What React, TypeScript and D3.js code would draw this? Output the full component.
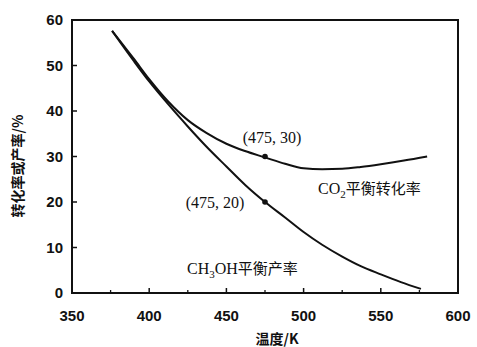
import React, { useRef, useEffect } from 'react';
import * as d3 from 'd3';

// temperatures (K) and values (%)
const co2Temp = [376, 390, 400, 412, 425, 437, 450, 462, 475, 488, 500, 512, 525, 537, 550, 565, 580];
const co2Rate = [57.6, 51.5, 47, 42.2, 38, 35.2, 32.8, 31.2, 29.8, 28.4, 27.4, 27.2, 27.3, 27.7, 28.3, 29.1, 30];
const ch3ohTemp = [376, 390, 400, 412, 425, 437, 450, 462, 475, 488, 500, 512, 525, 537, 550, 563, 576];
const ch3ohRate = [57.6, 51, 46.5, 41.6, 36.6, 32.2, 27.8, 23.8, 20, 16.6, 13.4, 10.6, 8, 5.9, 4.1, 2.4, 0.9];
const xTicks = [350, 400, 450, 500, 550, 600];
const yTicks = [0, 10, 20, 30, 40, 50, 60];
const markers = [
  { t: 475, v: 30, label: '(475, 30)' },
  { t: 475, v: 20, label: '(475, 20)' },
];

const W = 477, H = 347;
const margin = { left: 72, right: 19, top: 20, bottom: 54 };

const App = () => {
  const ref = useRef<SVGSVGElement>(null);

  useEffect(() => {
    const svg = d3.select(ref.current);
    svg.selectAll('*').remove();
    const w = W - margin.left - margin.right;
    const h = H - margin.top - margin.bottom;
    const x = d3.scaleLinear().domain([350, 600]).range([margin.left, margin.left + w]);
    const y = d3.scaleLinear().domain([0, 60]).range([margin.top + h, margin.top]);

    svg.append('rect').attr('width', W).attr('height', H).attr('fill', '#fff');

    // frame
    svg.append('rect').attr('x', margin.left).attr('y', margin.top).attr('width', w).attr('height', h)
      .attr('fill', 'none').attr('stroke', '#111').attr('stroke-width', 2);

    const ink = '#111';
    const font = '"Liberation Sans", Arial, sans-serif';

    // x ticks, inward
    const xMinor = d3.range(375, 600, 50);
    svg.append('g').selectAll('line.xmaj').data(xTicks.slice(1, -1)).enter().append('line')
      .attr('x1', d => x(d)).attr('x2', d => x(d)).attr('y1', y(0)).attr('y2', y(0) - 5)
      .attr('stroke', ink).attr('stroke-width', 1.5);
    svg.append('g').selectAll('line.xmin').data(xMinor).enter().append('line')
      .attr('x1', d => x(d)).attr('x2', d => x(d)).attr('y1', y(0)).attr('y2', y(0) - 3)
      .attr('stroke', ink).attr('stroke-width', 1.3);
    svg.append('g').selectAll('text').data(xTicks).enter().append('text')
      .attr('x', d => x(d)).attr('y', 321).attr('text-anchor', 'middle')
      .attr('font-family', font).attr('font-weight', 'bold').attr('font-size', 15).attr('fill', ink)
      .text(d => d);

    // y ticks, inward
    svg.append('g').selectAll('line').data(yTicks.slice(1, -1)).enter().append('line')
      .attr('x1', x(350)).attr('x2', x(350) + 5).attr('y1', d => y(d)).attr('y2', d => y(d))
      .attr('stroke', ink).attr('stroke-width', 1.5);
    svg.append('g').selectAll('text').data(yTicks).enter().append('text')
      .attr('x', 63).attr('y', d => y(d) + 5).attr('text-anchor', 'end')
      .attr('font-family', font).attr('font-weight', 'bold').attr('font-size', 15).attr('fill', ink)
      .text(d => d);

    // axis titles
    svg.append('text').attr('transform', 'translate(23,166) rotate(-90)').attr('text-anchor', 'middle')
      .attr('font-family', '"Noto Sans CJK SC", sans-serif').attr('font-weight', 'bold').attr('font-size', 14)
      .attr('fill', ink).text('转化率或产率/%');
    svg.append('text').attr('x', 277).attr('y', 344).attr('text-anchor', 'middle')
      .attr('font-family', '"Noto Sans CJK SC", sans-serif').attr('font-weight', 'bold').attr('font-size', 14)
      .attr('fill', ink).text('温度/K');

    // curves
    const line = d3.line<[number, number]>().x(d => x(d[0])).y(d => y(d[1])).curve(d3.curveMonotoneX);
    svg.append('path').attr('d', line(d3.zip(co2Temp, co2Rate) as [number, number][]))
      .attr('fill', 'none').attr('stroke', ink).attr('stroke-width', 2);
    svg.append('path').attr('d', line(d3.zip(ch3ohTemp, ch3ohRate) as [number, number][]))
      .attr('fill', 'none').attr('stroke', ink).attr('stroke-width', 2);

    // marked points
    svg.append('g').selectAll('circle').data(markers).enter().append('circle')
      .attr('cx', d => x(d.t)).attr('cy', d => y(d.v)).attr('r', 2.8).attr('fill', ink);

    const serif = '"Liberation Serif", "DejaVu Serif", serif';
    svg.append('text').attr('x', x(475) + 7).attr('y', y(30) - 14).attr('text-anchor', 'middle')
      .attr('font-family', serif).attr('font-size', 16).attr('fill', ink).text(markers[0].label);
    svg.append('text').attr('x', x(475) - 50).attr('y', y(20) + 6).attr('text-anchor', 'middle')
      .attr('font-family', serif).attr('font-size', 16).attr('fill', ink).text(markers[1].label);

    const co2 = svg.append('text').attr('x', 318).attr('y', 194)
      .attr('font-family', serif).attr('font-size', 16).attr('fill', ink);
    co2.append('tspan').text('CO');
    co2.append('tspan').attr('dy', 4).attr('font-size', 11).text('2');
    co2.append('tspan').attr('dy', -4).attr('font-family', '"Noto Sans CJK SC", sans-serif').attr('font-size', 15).text('平衡转化率');

    const meoh = svg.append('text').attr('x', 187).attr('y', 274)
      .attr('font-family', serif).attr('font-size', 16).attr('fill', ink);
    meoh.append('tspan').text('CH');
    meoh.append('tspan').attr('dy', 4).attr('font-size', 11).text('3');
    meoh.append('tspan').attr('dy', -4).text('OH');
    meoh.append('tspan').attr('font-family', '"Noto Sans CJK SC", sans-serif').attr('font-size', 15).text('平衡产率');
  }, []);

  return (
    <svg ref={ref} width={W} height={H} style={{ display: 'block', position: 'absolute', left: 0, top: 0 }} />
  );
};

export default App;
